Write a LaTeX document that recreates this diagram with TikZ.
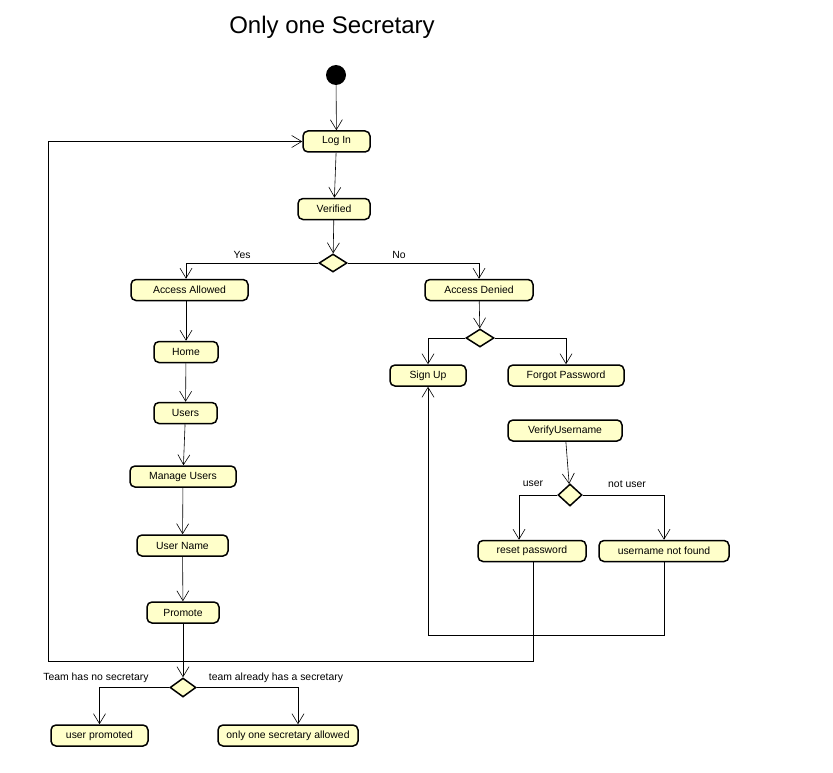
\documentclass[tikz,border=0pt]{standalone}
\usepackage{fontspec}
\setmainfont{Liberation Sans}
\usetikzlibrary{arrows.meta,shapes.geometric,calc}
\definecolor{actfill}{RGB}{255,255,202}
\tikzset{
  act/.style={draw=black, fill=actfill, rounded corners=5pt, line width=1.5pt, minimum height=21pt, inner sep=0pt, font=\fontsize{10.4}{12}\selectfont},
  dec/.style={draw=black, fill=actfill, diamond, line width=1.5pt, minimum width=28pt, minimum height=18pt, inner sep=0pt},
  flow/.style={draw=black, line width=0.6pt, -{Straight Barb[length=10pt,width=12pt]}},
  plain/.style={draw=black, line width=0.6pt},
  lbl/.style={font=\fontsize{10.4}{12}\selectfont, inner sep=0pt}
}
\begin{document}
\begin{tikzpicture}[x=1pt,y=-1pt]
\useasboundingbox (0,0) rectangle (833,773);
\node[font=\fontsize{24}{28}\selectfont, inner sep=0pt] (title) at (332,27) {Only one Secretary};
\node[circle, fill=black, minimum size=20pt, inner sep=0pt] (start) at (336,75) {};
\node[act, minimum width=67pt] (login) at (336.5,141.5) {Log In};
\node[act, minimum width=72pt] (verified) at (334,209) {Verified};
\node[dec] (d1) at (333,263) {};
\node[act, minimum width=117pt] (allowed) at (189.5,290) {Access Allowed};
\node[act, minimum width=108pt] (denied) at (479,290) {Access Denied};
\node[act, minimum width=64pt] (home) at (186,352) {Home};
\node[act, minimum width=63pt] (users) at (185.5,413) {Users};
\node[act, minimum width=106pt] (manage) at (183,476.5) {Manage Users};
\node[act, minimum width=91pt] (uname) at (182.5,545.5) {User Name};
\node[act, minimum width=72pt] (promote) at (183,612.5) {Promote};
\node[dec] (d2) at (480,338) {};
\node[act, minimum width=76pt] (signup) at (428,375.5) {Sign Up};
\node[act, minimum width=116pt] (forgot) at (566,375.5) {Forgot Password};
\node[act, minimum width=114pt] (verifyu) at (565,430.5) {VerifyUsername};
\node[dec, minimum width=24pt, minimum height=22pt] (d3) at (570,495) {};
\node[act, minimum width=108pt] (reset) at (532,551) {reset password};
\node[act, minimum width=130pt] (notfound) at (664,551) {username not found};
\node[dec, minimum width=26pt, minimum height=19pt] (d4) at (183,687.5) {};
\node[act, minimum width=97pt] (promoted) at (99.5,735.5) {user promoted};
\node[act, minimum width=140pt] (onlyone) at (288,735.5) {only one secretary allowed};
\coordinate (loopL) at (48,661);
\coordinate (loopR) at (428,635);
% labels
\node[lbl] (yes) at (242,255) {Yes};
\node[lbl] (no) at (399,255) {No};
\node[lbl] (luser) at (533,484) {user};
\node[lbl] (lnotuser) at (627,484) {not user};
\node[lbl] (lnosec) at (96,677.5) {Team has no secretary};
\node[lbl] (lhassec) at (276,677.5) {team already has a secretary};
% flows
\draw[flow] (start) -- (login);
\draw[flow] (login) -- (verified);
\draw[flow] (verified) -- (d1);
\draw[flow] (d1.west) -| (allowed.north -| 186,0);
\draw[flow] (d1.east) -| (denied.north);
\draw[flow] (allowed.south -| 186,0) -- (home);
\draw[flow] (home) -- (users);
\draw[flow] (users) -- (manage);
\draw[flow] (manage) -- (uname);
\draw[flow] (uname) -- (promote);
\draw[flow] (promote) -- (d4);
\draw[flow] (denied) -- (d2);
\draw[flow] (d2.west) -| (signup.north);
\draw[flow] (d2.east) -| (forgot.north);
\draw[flow] (verifyu) -- (d3);
\draw[flow] (d3.west) -| (reset.north -| 519,0);
\draw[flow] (d3.east) -| (notfound.north);
\draw[flow] (d4.west) -| (promoted.north);
\draw[flow] (d4.east) -| (onlyone.north -| 298,0);
\draw[plain] (reset.south -| 533,0) |- (loopL);
\draw[flow] (loopL) |- (login.west);
\draw[plain] (notfound.south) |- (loopR);
\draw[flow] (loopR) -- (signup.south);
\end{tikzpicture}
\end{document}
